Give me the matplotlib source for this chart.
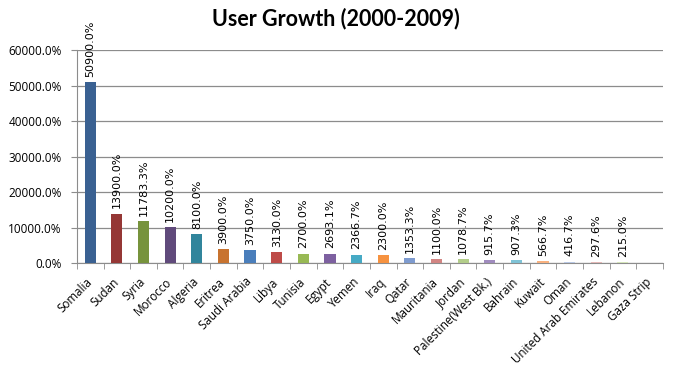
import numpy as np
import matplotlib
matplotlib.use("Agg")
import matplotlib.pyplot as plt
import matplotlib.transforms as mtransforms
from matplotlib.ticker import FuncFormatter, MultipleLocator

countries = ["Somalia", "Sudan", "Syria", "Morocco", "Algeria", "Eritrea", "Saudi Arabia",
             "Libya", "Tunisia", "Egypt", "Yemen", "Iraq", "Qatar", "Mauritania", "Jordan",
             "Palestine(West Bk.)", "Bahrain", "Kuwait", "Oman", "United Arab Emirates",
             "Lebanon", "Gaza Strip"]
growth = [50900.0, 13900.0, 11783.3, 10200.0, 8100.0, 3900.0, 3750.0, 3130.0, 2700.0,
          2693.1, 2366.7, 2300.0, 1353.3, 1100.0, 1078.7, 915.7, 907.3, 566.7, 416.7,
          297.6, 215.0, np.nan]
colors = ["#3A6192", "#953735", "#77933C", "#604A7B", "#31859C", "#C8732F",
          "#4A7EBB", "#BE4B48", "#98B954", "#7D60A0", "#46AAC5", "#F69240",
          "#7E9BCF", "#D28583", "#B3CD8A", "#A08BBE", "#80C3D6", "#F9B17F",
          "#B9C8E4", "#E4B8B7", "#D5E5BA", "#CFC4DF"]
title = "User Growth (2000-2009)"

fig = plt.figure(figsize=(6.75, 3.77), dpi=100)
ax = fig.add_axes([0.114, 0.302, 0.868, 0.565])
x = np.arange(len(countries))
vals = np.array(growth, dtype=float)
ax.bar(x, np.nan_to_num(vals), width=0.42, color=colors, zorder=3)

for xi, v in zip(x, vals):
    if np.isnan(v):
        continue
    ax.text(xi, v + 1500, f"{v:.1f}%", rotation=90, ha="center", va="bottom",
            fontsize=8, family="DejaVu Sans", color="#000000", clip_on=False, zorder=4)

ax.set_xlim(-0.5, len(countries) - 0.5)
ax.set_ylim(0, 60000)
ax.yaxis.set_major_locator(MultipleLocator(10000))
ax.yaxis.set_major_formatter(FuncFormatter(lambda v, p: f"{v:.1f}%"))
ax.grid(axis="y", color="#8C8C8C", linewidth=0.9, zorder=0)
for s in ["top", "right"]:
    ax.spines[s].set_visible(False)
ax.spines["left"].set_color("#8C8C8C")
ax.spines["bottom"].set_color("#8C8C8C")

ax.set_xticks(x)
ax.set_xticklabels(countries, rotation=45, ha="right", va="center", rotation_mode="anchor",
                   fontsize=8.4, family="Open Sans")
shift = mtransforms.ScaledTranslation(-0.03, 0, fig.dpi_scale_trans)
for lab in ax.get_xticklabels():
    lab.set_transform(lab.get_transform() + shift)
ax.set_xticks(np.arange(len(countries) + 1) - 0.5, minor=True)
ax.tick_params(axis="x", which="major", length=0, pad=12)
ax.tick_params(axis="x", which="minor", length=4, color="#8C8C8C")
ax.tick_params(axis="y", length=4, color="#8C8C8C", labelsize=8.5, pad=7)
for lab in ax.get_yticklabels():
    lab.set_family("Open Sans")

fig.text(0.498, 0.952, title, ha="center", va="center", fontsize=15.5,
         fontweight="bold", family="Lato")

fig.savefig("out.png", dpi=100)
